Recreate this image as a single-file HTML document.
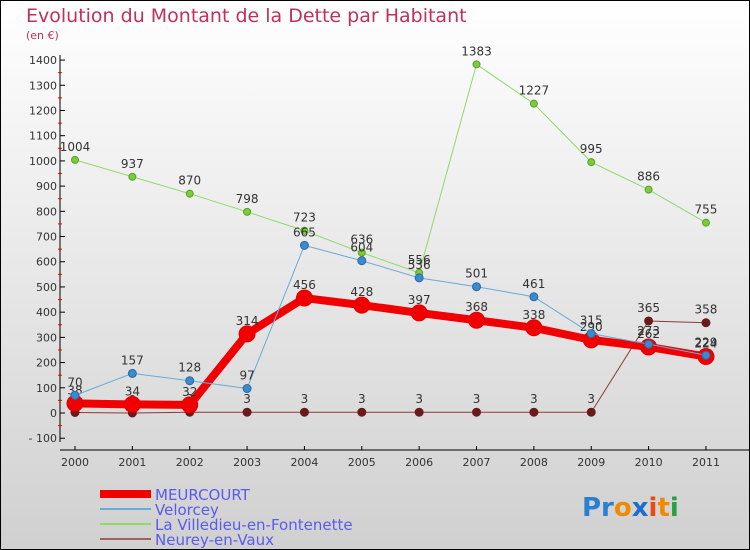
<!DOCTYPE html>
<html><head><meta charset="utf-8"><style>
body{margin:0}
#c{width:750px;height:550px;position:relative;overflow:hidden;font-family:"DejaVu Sans","Liberation Sans",sans-serif}
svg text{font-family:"DejaVu Sans","Liberation Sans",sans-serif}
</style></head><body>
<div id="c">
<svg id="s" width="750" height="550" xmlns="http://www.w3.org/2000/svg">
<defs><linearGradient id="bg" x1="0" y1="0" x2="0" y2="1"><stop offset="0" stop-color="#ffffff"/><stop offset="1" stop-color="#d0d0d0"/></linearGradient></defs>
<rect x="0.5" y="0.5" width="749" height="549" fill="url(#bg)" stroke="#000"/>
<text x="26" y="22" font-size="19" fill="#c0305a">Evolution du Montant de la Dette par Habitant</text>
<text x="26" y="39" font-size="11" fill="#c0305a">(en €)</text>
<g id="axes"></g><g id="series"></g><g id="legend"></g>
<g font-size="26" font-weight="bold">
<text x="582" y="516"><tspan fill="#2a7fd0">Pr</tspan><tspan fill="#f08a00">o</tspan><tspan fill="#1a6fd0">x</tspan><tspan fill="#e84a10">i</tspan><tspan fill="#f08a00">t</tspan><tspan fill="#2aa040">i</tspan></text>
</g>
</svg></div>
<script>
const years=[2000,2001,2002,2003,2004,2005,2006,2007,2008,2009,2010,2011];
const yTicks=[-100,0,100,200,300,400,500,600,700,800,900,1000,1100,1200,1300,1400];
const meurcourt=[38,34,32,314,456,428,397,368,338,290,262,224];
const velorcey=[70,157,128,97,665,604,536,501,461,315,273,229];
const villedieu=[1004,937,870,798,723,636,556,1383,1227,995,886,755];
const neurey=[2,0,3,3,3,3,3,3,3,3,365,358];
const NS="http://www.w3.org/2000/svg";
function X(i){return 75+i*57.36;}
function Y(v){return 413-v*0.2521;}
function mk(t,a,p){const e=document.createElementNS(NS,t);for(const k in a)e.setAttribute(k,a[k]);p.appendChild(e);return e;}
const ax=document.getElementById('axes');
let yl=mk('line',{x1:60,y1:55,x2:60,y2:442,stroke:'#000'},ax);


let xl=mk('line',{x1:60,y1:450,x2:750,y2:450,stroke:'#000'},ax);


yTicks.forEach(v=>{
 mk('line',{x1:60,y1:Y(v),x2:65,y2:Y(v),stroke:'#000'},ax);
 if(v<1400)mk('line',{x1:58,y1:Y(v+50),x2:62,y2:Y(v+50),stroke:'#e00'},ax);
 const t=mk('text',{x:57,y:Y(v)+4,'text-anchor':'end','font-size':11,fill:'#333'},ax);
 t.textContent=v<0?'- '+(-v):v;
 
 
});
years.forEach((y,i)=>{
 mk('line',{x1:X(i),y1:446,x2:X(i),y2:450,stroke:'#000'},ax);
 const t=mk('text',{x:X(i),y:466,'text-anchor':'middle','font-size':11,fill:'#333'},ax);
 t.textContent=y;
 
 
});
const sg=document.getElementById('series');
function series(vals,color,w,r,name,fill,stroke){
 const g=mk('g',{},sg);
 
 
 mk('polyline',{points:vals.map((v,i)=>X(i)+','+Y(v)).join(' '),fill:'none',stroke:color,'stroke-width':w,'stroke-linejoin':'round'},g);
 vals.forEach((v,i)=>{
  const c=mk('circle',{cx:X(i),cy:Y(v),r:r,fill:fill,stroke:stroke,'stroke-width':1},g);
  
  
  const t=mk('text',{x:X(i),y:Y(v)-9,'text-anchor':'middle','font-size':12,fill:'#333'},g);
  t.textContent=v;
  
  
 });
}
series(neurey,'#8b3a3a',1,4,'neurey-series','#6a1a1a','#6a1a1a');
series(villedieu,'#8fd86a',1,3.5,'villedieu-series','#7acc3a','#5aa02a');
series(meurcourt,'#f00000',8,8,'meurcourt-series','#f00000','#e00000');
series(velorcey,'#6aaad8',1,4,'velorcey-series','#3a8ad0','#2a6aa0');
const lg=document.getElementById('legend');
const items=[['MEURCOURT','#f00000',8],['Velorcey','#6aaad8',2],['La Villedieu-en-Fontenette','#8fd86a',2],['Neurey-en-Vaux','#a06060',2]];
items.forEach((it,i)=>{
 const y=492+i*15;
 const g=mk('g',{},lg);
 
 
 mk('line',{x1:100,y1:y+2,x2:151,y2:y+2,stroke:it[1],'stroke-width':it[2]},g);
 const t=mk('text',{x:155,y:y+8,'font-size':15,fill:'#5a5aee'},g);
 t.textContent=it[0];
});
</script>
</body></html>
